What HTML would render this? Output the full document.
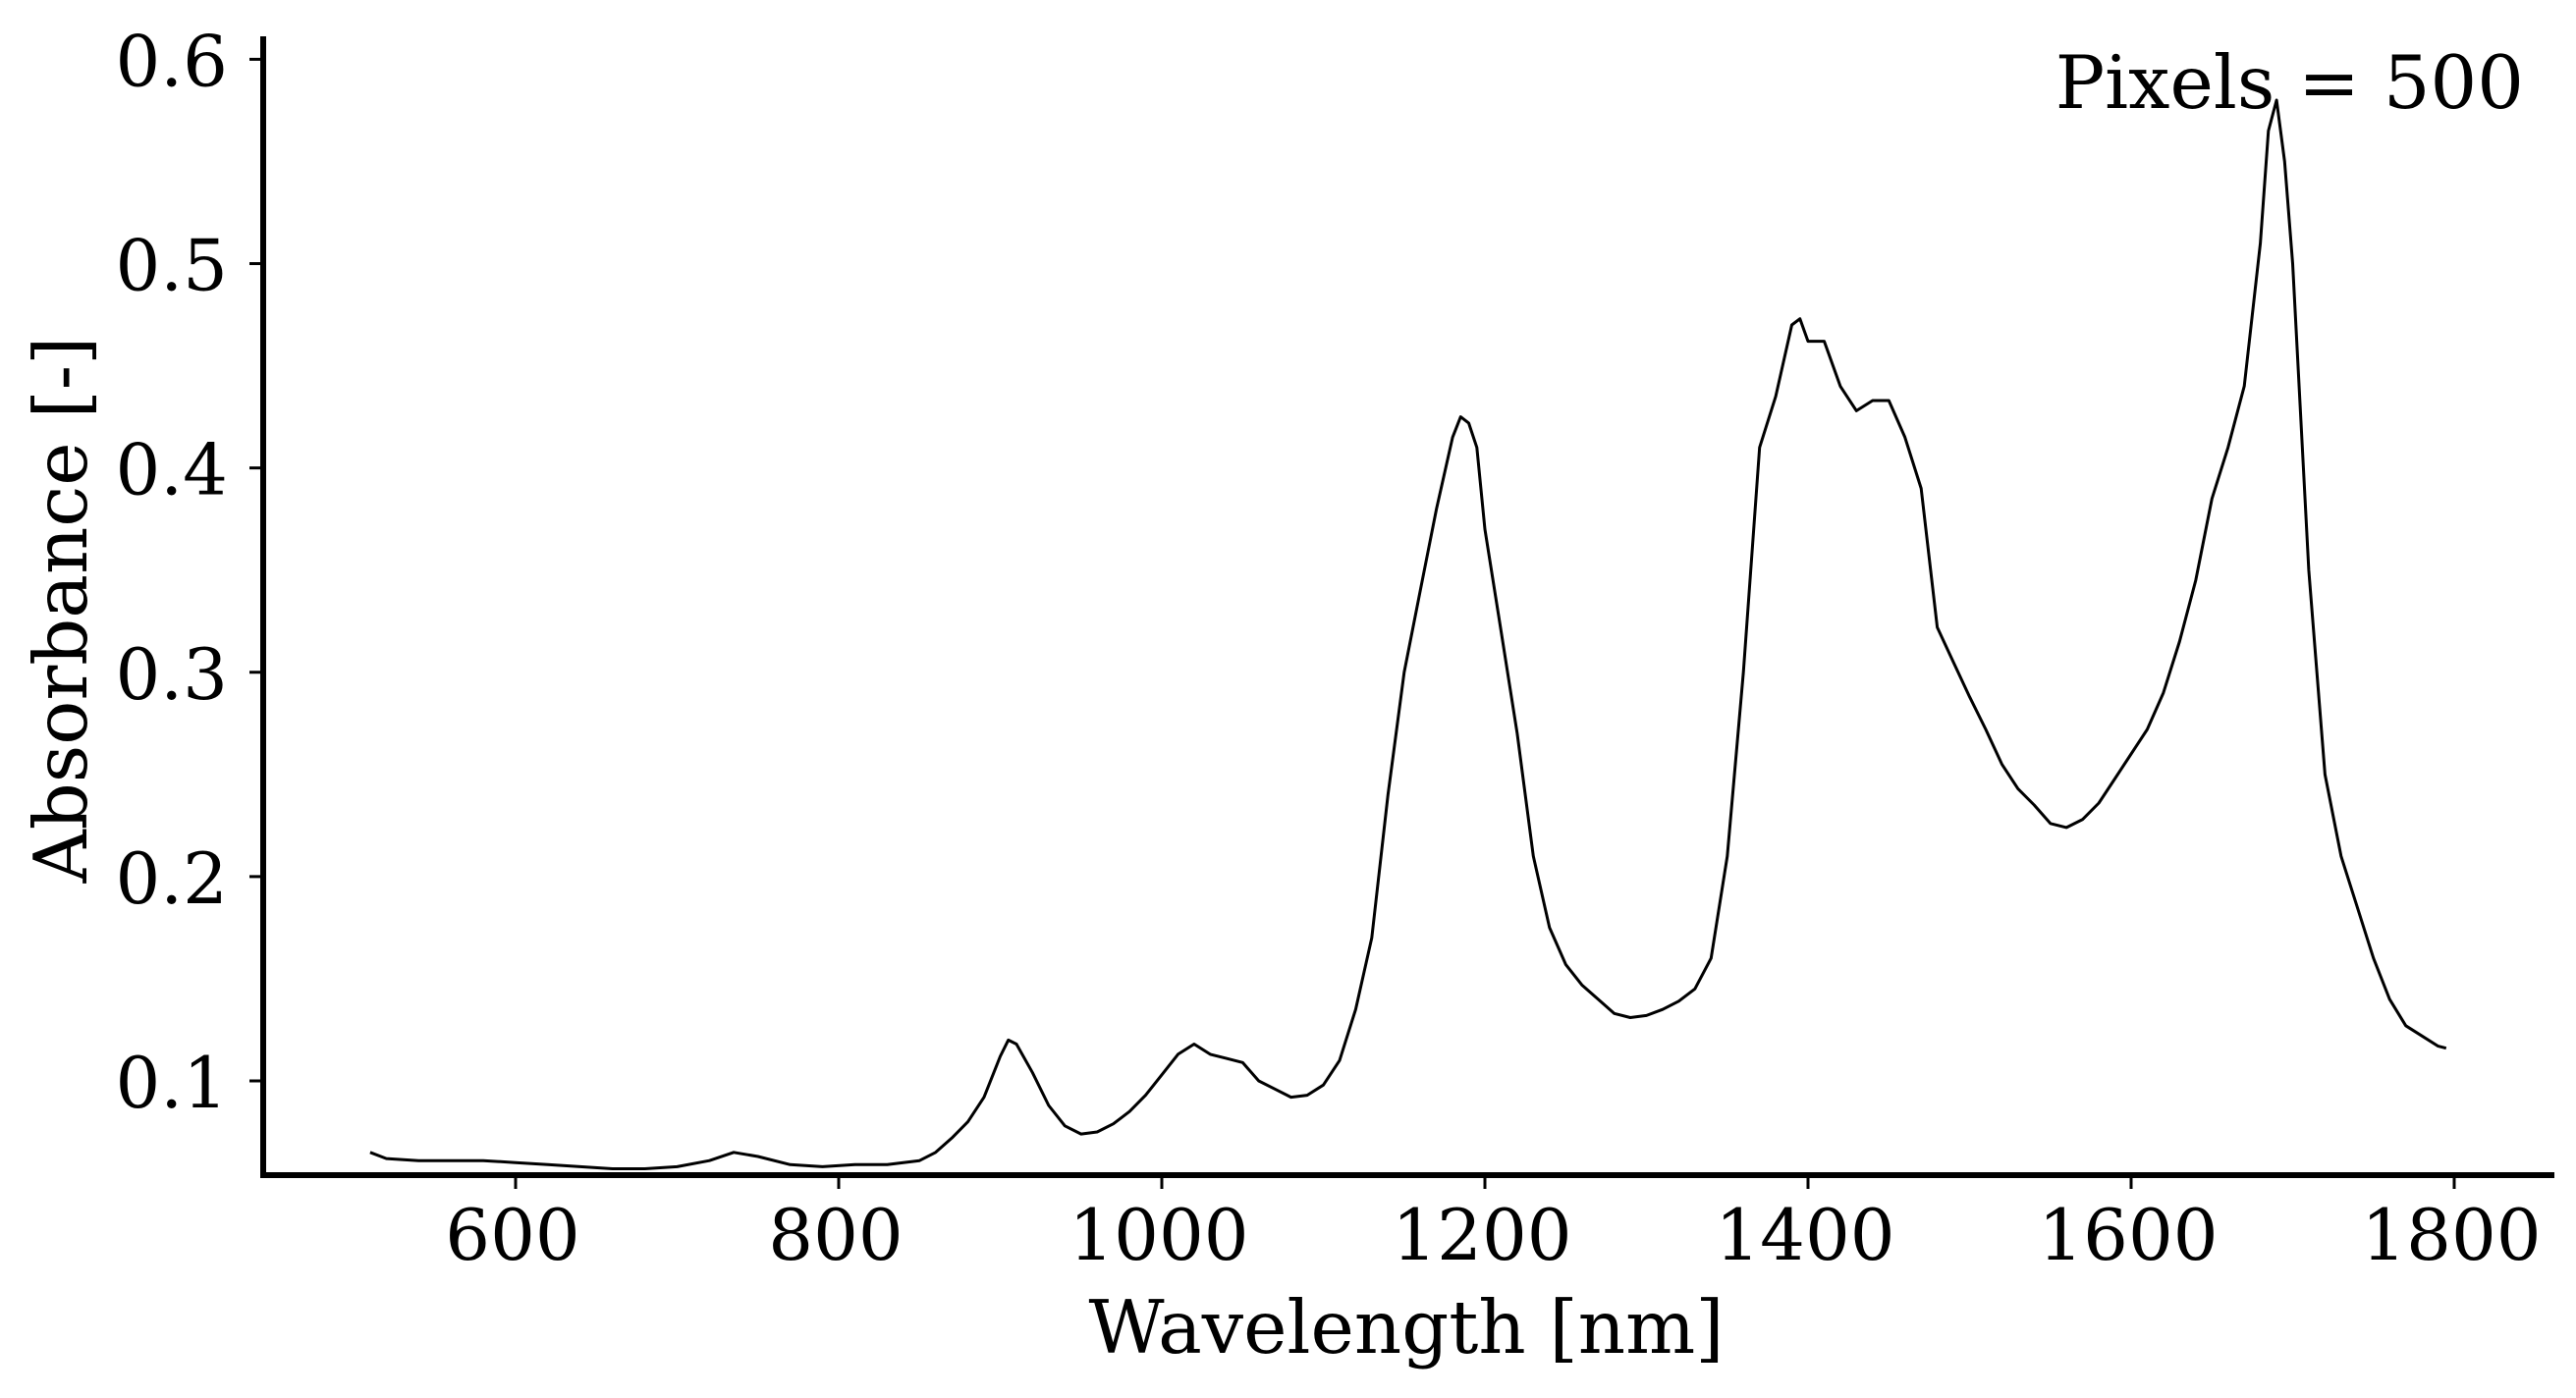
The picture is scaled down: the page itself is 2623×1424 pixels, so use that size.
<!DOCTYPE html>
<html><head><meta charset="utf-8"><style>
html,body{margin:0;padding:0;background:#fff;}
svg text{font-family:"DejaVu Serif","Liberation Serif",serif;fill:#000;}
</style></head><body>
<svg id="chart" width="2623" height="1419" xmlns="http://www.w3.org/2000/svg"></svg>
<script>
const wavelengths=[510,520,540,560,580,600,620,640,660,680,700,720,735,750,770,790,810,830,850,860,870,880,890,900,905,910,920,930,940,950,960,970,980,990,1000,1010,1020,1030,1040,1050,1060,1070,1080,1090,1100,1110,1120,1130,1140,1150,1160,1170,1180,1185,1190,1195,1200,1210,1220,1230,1240,1250,1260,1270,1280,1290,1300,1310,1320,1330,1340,1350,1360,1370,1380,1390,1395,1400,1410,1420,1430,1440,1450,1460,1470,1480,1490,1500,1510,1520,1530,1540,1550,1560,1570,1580,1590,1600,1610,1620,1630,1640,1650,1660,1670,1680,1685,1690,1695,1700,1710,1720,1730,1740,1750,1760,1770,1780,1790,1795];
const absorbance=[0.065,0.062,0.061,0.061,0.061,0.060,0.059,0.058,0.057,0.057,0.058,0.061,0.065,0.063,0.059,0.058,0.059,0.059,0.061,0.065,0.072,0.080,0.092,0.112,0.120,0.118,0.104,0.088,0.078,0.074,0.075,0.079,0.085,0.093,0.103,0.113,0.118,0.113,0.111,0.109,0.100,0.096,0.092,0.093,0.098,0.110,0.135,0.170,0.240,0.300,0.340,0.380,0.415,0.425,0.422,0.410,0.370,0.320,0.270,0.210,0.175,0.157,0.147,0.140,0.133,0.131,0.132,0.135,0.139,0.145,0.160,0.210,0.300,0.410,0.435,0.470,0.473,0.462,0.462,0.440,0.428,0.433,0.433,0.415,0.390,0.322,0.305,0.288,0.272,0.255,0.243,0.235,0.226,0.224,0.228,0.236,0.248,0.260,0.272,0.290,0.315,0.345,0.385,0.410,0.440,0.510,0.565,0.580,0.550,0.500,0.350,0.250,0.210,0.185,0.160,0.140,0.127,0.122,0.117,0.116];
const xTicks=[600,800,1000,1200,1400,1600,1800];
const yTicks=[0.1,0.2,0.3,0.4,0.5,0.6];
const yTickLabels=["0.1","0.2","0.3","0.4","0.5","0.6"];

const NS="http://www.w3.org/2000/svg";
const svg=document.getElementById('chart');
const X0=268,X1=2601,Y0=1197,Y1=37;
function sx(v){return 525+(v-600)*(2499-525)/1200;}
function sy(v){return 1101-(v-0.1)*(1101-60.4)/0.5;}
function mk(tag,attrs){const e=document.createElementNS(NS,tag);for(const k in attrs)e.setAttribute(k,attrs[k]);svg.appendChild(e);return e;}

let d='';
wavelengths.forEach((w,i)=>{d+=(i?'L':'M')+sx(w).toFixed(1)+','+sy(absorbance[i]).toFixed(1);});
const line=mk('path',{d:d,fill:'none',stroke:'#000','stroke-width':3,'stroke-linejoin':'round'});



const ls=mk('line',{x1:X0,y1:Y1,x2:X0,y2:Y0+3,stroke:'#000','stroke-width':6});


const bs=mk('line',{x1:X0-3,y1:Y0,x2:X1,y2:Y0,stroke:'#000','stroke-width':6});



xTicks.forEach(t=>{
  const tk=mk('line',{x1:sx(t),y1:Y0,x2:sx(t),y2:Y0+14,stroke:'#000','stroke-width':3});
  
  
  const tx=mk('text',{x:sx(t)-3,y:1283,'font-size':72,'text-anchor':'middle'});
  tx.textContent=String(t);
  
  
});
yTicks.forEach((t,i)=>{
  const tk=mk('line',{x1:X0-14,y1:sy(t),x2:X0,y2:sy(t),stroke:'#000','stroke-width':3});
  
  
  const tx=mk('text',{x:232,y:sy(t)+27,'font-size':72,'text-anchor':'end'});
  tx.textContent=yTickLabels[i];
  
  
});
const xl=mk('text',{x:1432,y:1378,'font-size':75,'text-anchor':'middle'});
xl.textContent='Wavelength [nm]';


const yl=mk('text',{x:0,y:0,'font-size':75,'text-anchor':'middle',transform:'translate(88,621) rotate(-90)'});
yl.textContent='Absorbance [-]';


const an=mk('text',{x:2570,y:110,'font-size':75,'text-anchor':'end'});
an.textContent='Pixels = 500';


</script>
</body></html>
